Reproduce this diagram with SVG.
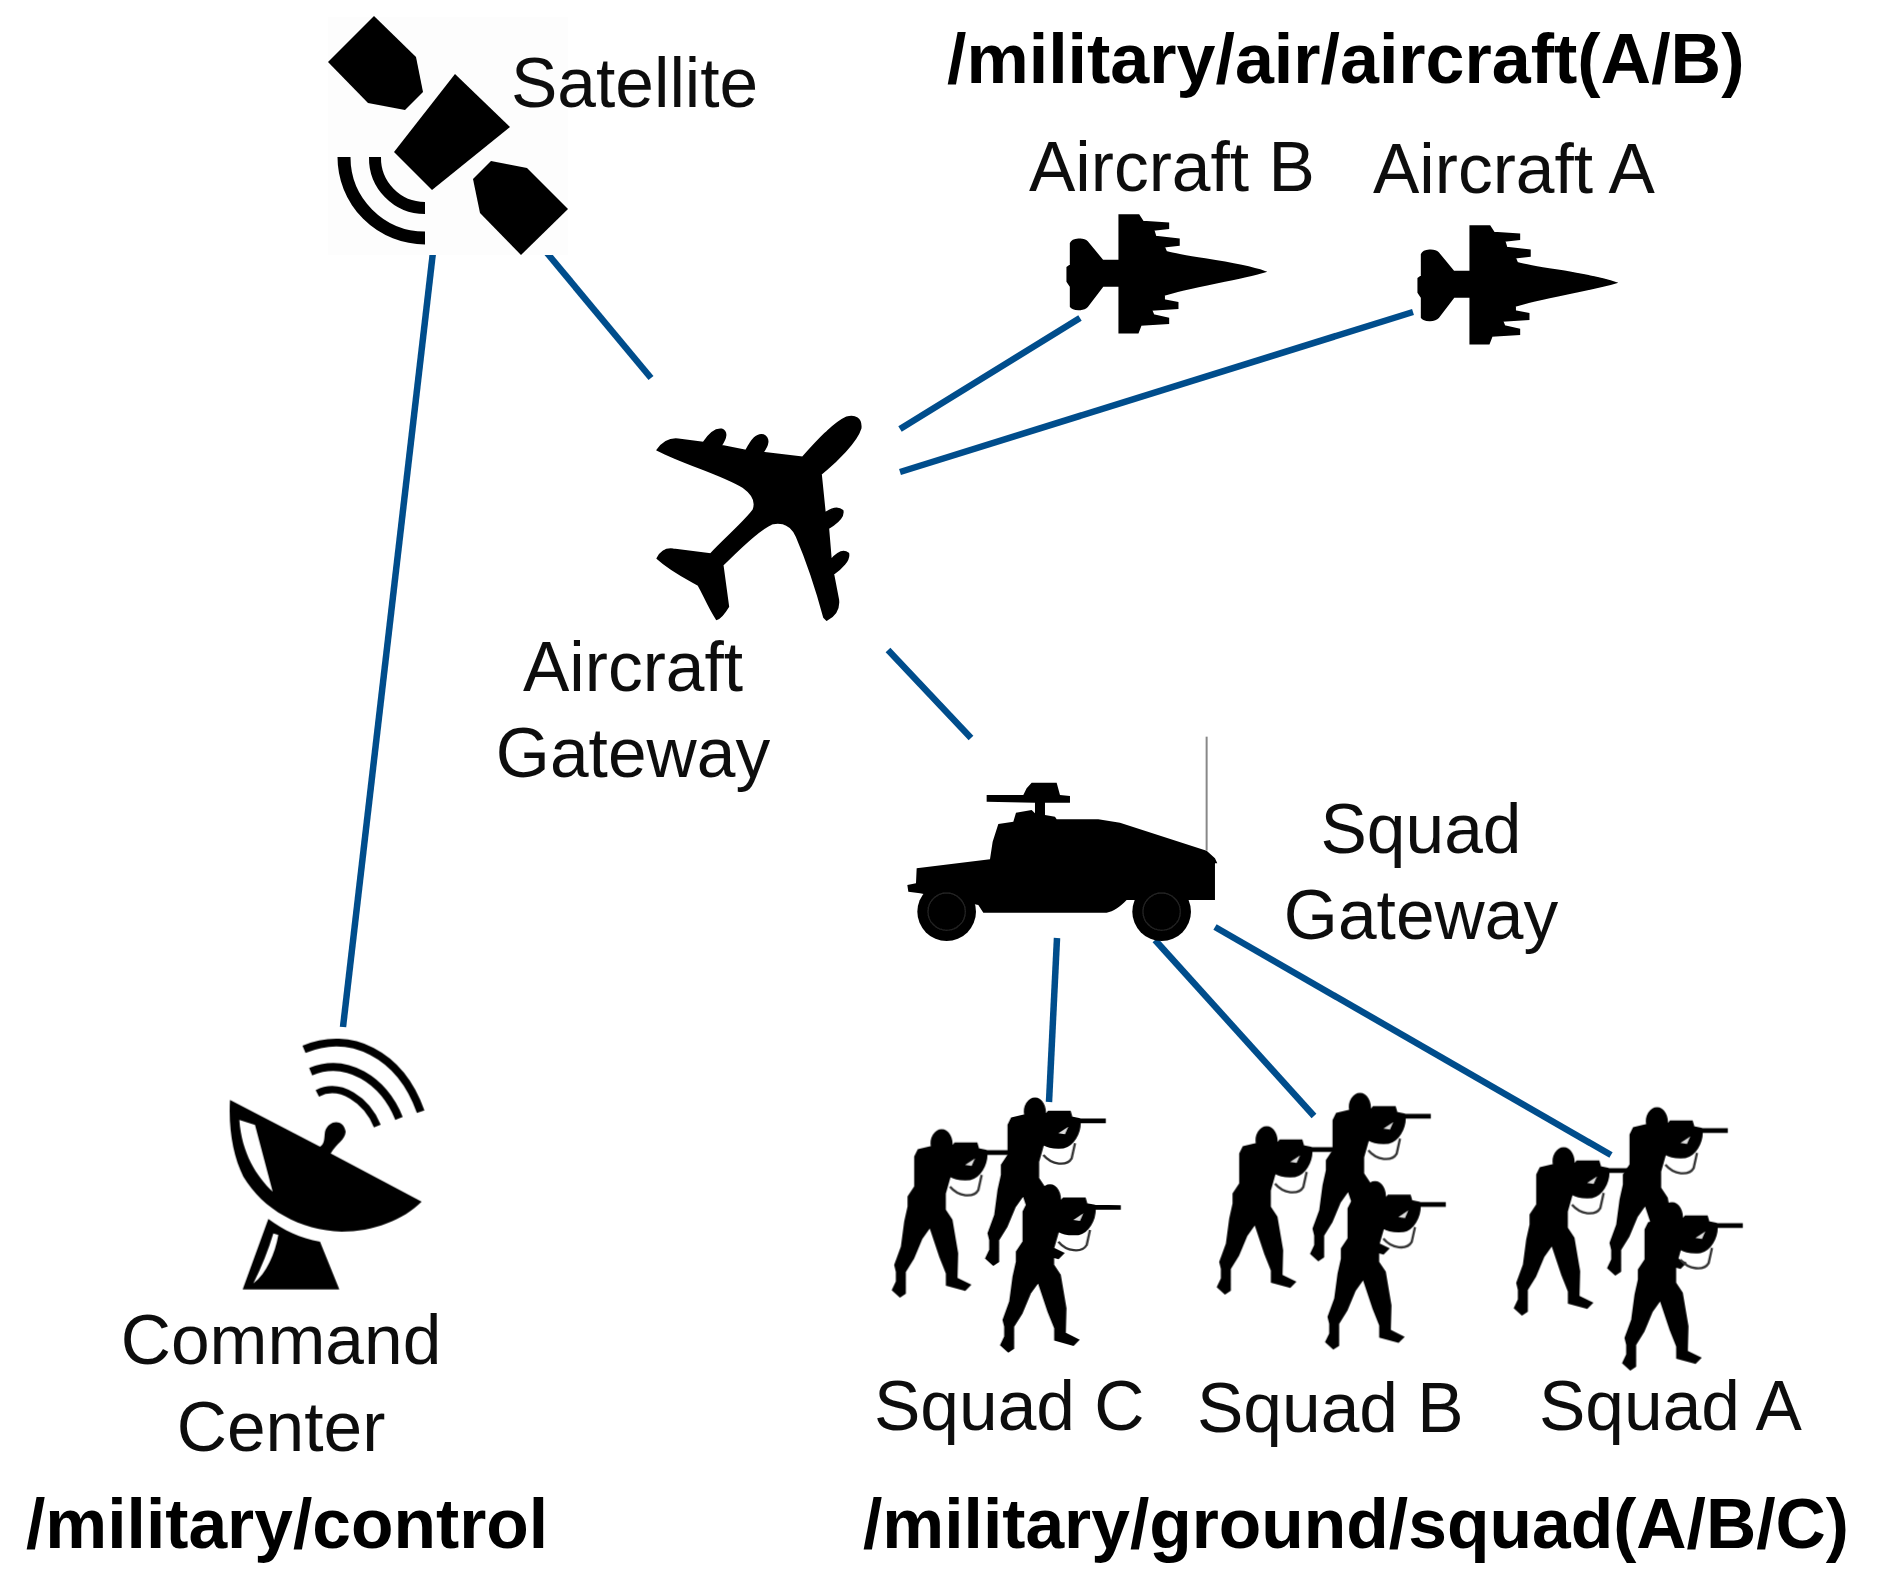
<svg xmlns="http://www.w3.org/2000/svg" xmlns:xlink="http://www.w3.org/1999/xlink" width="1881" height="1579" viewBox="0 0 1881 1579">
<style>
text{font-family:"Liberation Sans",Arial,sans-serif;font-size:69.5px;fill:#111}
.t{font-weight:700;font-size:69.6px;fill:#000}
.m{text-anchor:middle}
.c{stroke:#004e8c;stroke-width:6.5;fill:none}
.wave{fill:none;stroke:#000}
.bulk{stroke:#000;stroke-width:5}
</style>
<defs>
<filter id="soft" x="0" y="0" width="100%" height="100%"><feGaussianBlur stdDeviation="0.7"/></filter>
<path id="jet" class="bulk" d="M170,190C175,175 200,175 208,185L245,242L285,242L285,105L330,105L340,125L400,130L400,145L365,150L370,170L425,178L425,195L390,200L395,215C450,235 560,245 628,275C560,300 450,320 390,345L390,360L422,368L422,385L360,390L365,405L400,415L400,430L335,435L328,458L285,458L285,318L245,318L208,380C200,392 175,390 170,380L170,320L162,305L162,262L170,255Z"/>
<g id="soldier">
<path class="bulk" d="M185,120C205,120 218,145 215,172L225,160L290,160L295,177L320,182L395,183L395,192L320,192C320,225 300,262 270,268C240,270 220,265 210,258L195,310L195,360L215,390L232,490L230,565L270,585L255,600L200,585L200,550L180,500L150,410L125,445L100,505L75,545L75,610L60,620L38,600L50,575L50,545L45,525L65,470L75,395L85,350L85,320L105,290L105,200L115,180L155,170C150,145 165,120 185,120Z"/>
<path d="M210,290C235,320 280,325 295,300L305,255" fill="none" stroke="#333" stroke-width="7"/>
<path d="M255,225L285,205L275,228Z" fill="#ddd"/>
</g>
</defs>
<rect width="1881" height="1579" fill="#fff"/>
<g filter="url(#soft)">
<g id="connectors">
<line class="c" x1="433" y1="252" x2="343" y2="1027"/>
<line class="c" x1="547" y1="253" x2="651" y2="378"/>
<line class="c" x1="900" y1="429" x2="1080" y2="318"/>
<line class="c" x1="900" y1="472" x2="1413" y2="312"/>
<line class="c" x1="888" y1="650" x2="971" y2="738"/>
<line class="c" x1="1057" y1="938" x2="1049" y2="1102"/>
<line class="c" x1="1155" y1="940" x2="1314" y2="1116"/>
<line class="c" x1="1215" y1="927" x2="1611" y2="1155"/>
</g>
<g id="satellite">
<rect x="328" y="17" width="240" height="238" fill="#fdfdfd"/>
<path d="M374,16L416,57L423,92L405,110L368,103L328,62Z"/>
<path d="M455,74L510,127L432,190L394,152Z"/>
<path d="M491,161L527,168L568,209L521,255L480,213L473,179Z"/>
<path class="wave" stroke-width="13" d="M344,157A81,81 0 0 0 425,238"/>
<path class="wave" stroke-width="12" d="M375,157A50,50 0 0 0 425,208"/>
<text x="511" y="107">Satellite</text>
</g>
<text class="t" x="947" y="83" style="font-size:70px">/military/air/aircraft(A/B)</text>
<g id="aircraft-b">
<text x="1029" y="191">Aircraft B</text>
<use xlink:href="#jet" transform="translate(999,180) scale(.4228,.3333)"/>
</g>
<g id="aircraft-a">
<text x="1373" y="193">Aircraft A</text>
<use xlink:href="#jet" transform="translate(1350,191) scale(.4228,.3333)"/>
</g>
<g id="aircraft-gateway">
<path class="bulk" transform="translate(620,380) scale(.3333)" d="M112,210C130,185 150,175 175,178L250,188C265,165 285,145 305,148C322,155 320,172 303,197L378,212C395,180 410,160 430,165C450,175 445,195 428,218L548,232C590,185 640,130 680,112C705,105 725,115 722,145C710,185 650,245 603,282L615,400C635,385 655,380 668,392C672,410 650,430 625,445L633,540C650,520 670,508 685,520C690,540 665,565 640,582L655,660C658,690 640,710 620,720L612,712C590,630 560,540 530,470C515,435 490,425 460,430C420,445 360,505 308,555L325,680C310,705 300,715 290,718C265,680 250,640 235,615C190,590 150,570 112,535C125,510 140,505 160,508L272,522C310,480 370,430 400,390C410,365 395,340 370,322C300,280 200,255 112,210Z"/>
<text class="m" x="633" y="691">Aircraft</text>
<text class="m" x="633" y="777">Gateway</text>
</g>
<g id="squad-gateway">
<g transform="translate(880,720) scale(.3333)">
<path d="M110,445L330,418L338,365L355,312L400,305L408,278L455,270L465,280L465,248L320,245L320,225L430,225L440,205L455,188L530,188L540,225L570,228L570,248L495,248L495,285L525,290L530,298L655,298L720,308L980,392L1005,415L1012,430L1005,430L1005,540L740,540C720,560 700,575 680,578L310,578L295,555L120,520L85,515L82,495L108,490Z"/>
<circle cx="200" cy="575" r="88"/><circle cx="845" cy="575" r="88"/>
<circle cx="200" cy="575" r="56" fill="none" stroke="#222" stroke-width="4"/><circle cx="845" cy="575" r="56" fill="none" stroke="#222" stroke-width="4"/>
<line x1="980" y1="50" x2="980" y2="392" stroke="#888" stroke-width="6"/>
</g>
<text class="m" x="1421" y="853">Squad</text>
<text class="m" x="1421" y="939">Gateway</text>
</g>
<g id="command-center">
<g transform="translate(200,1020) scale(.3333)">
<path fill-rule="evenodd" d="M90,240L360,380C375,370 372,355 375,335C385,300 430,295 437,335C435,360 410,370 392,400L665,545C610,600 520,635 425,635C300,630 190,570 130,470C100,410 85,330 90,240ZM118,300L165,315L218,515C170,470 125,400 118,300Z"/>
<path fill-rule="evenodd" d="M205,597C250,630 300,655 360,665L418,808L128,808ZM220,640L235,645C225,700 200,760 160,790C185,740 205,690 220,640Z"/>
<path class="wave" stroke-width="24" d="M312,88C450,30 600,100 662,275"/>
<path class="wave" stroke-width="24" d="M332,155C440,110 550,180 597,295"/>
<path class="wave" stroke-width="22" d="M352,220C420,185 500,240 532,318"/>
</g>
<text class="m" x="281" y="1364">Command</text>
<text class="m" x="281" y="1451">Center</text>
</g>
<text class="t" x="26" y="1548">/military/control</text>
<g id="squad-c">
<g transform="translate(880,1090) scale(.3333)">
<use xlink:href="#soldier"/>
<use xlink:href="#soldier" x="280" y="-95"/>
<use xlink:href="#soldier" x="325" y="165"/>
</g>
<text x="874" y="1430">Squad C</text>
</g>
<g id="squad-b">
<g transform="translate(1205,1087) scale(.3333)">
<use xlink:href="#soldier"/>
<use xlink:href="#soldier" x="280" y="-100"/>
<use xlink:href="#soldier" x="325" y="165"/>
</g>
<text x="1197" y="1432">Squad B</text>
</g>
<g id="squad-a">
<g transform="translate(1502,1108) scale(.3333)">
<use xlink:href="#soldier"/>
<use xlink:href="#soldier" x="280" y="-120"/>
<use xlink:href="#soldier" x="325" y="165"/>
</g>
<text x="1539" y="1430">Squad A</text>
</g>
<text class="t" x="863" y="1548">/military/ground/squad(A/B/C)</text>
</g>
</svg>
